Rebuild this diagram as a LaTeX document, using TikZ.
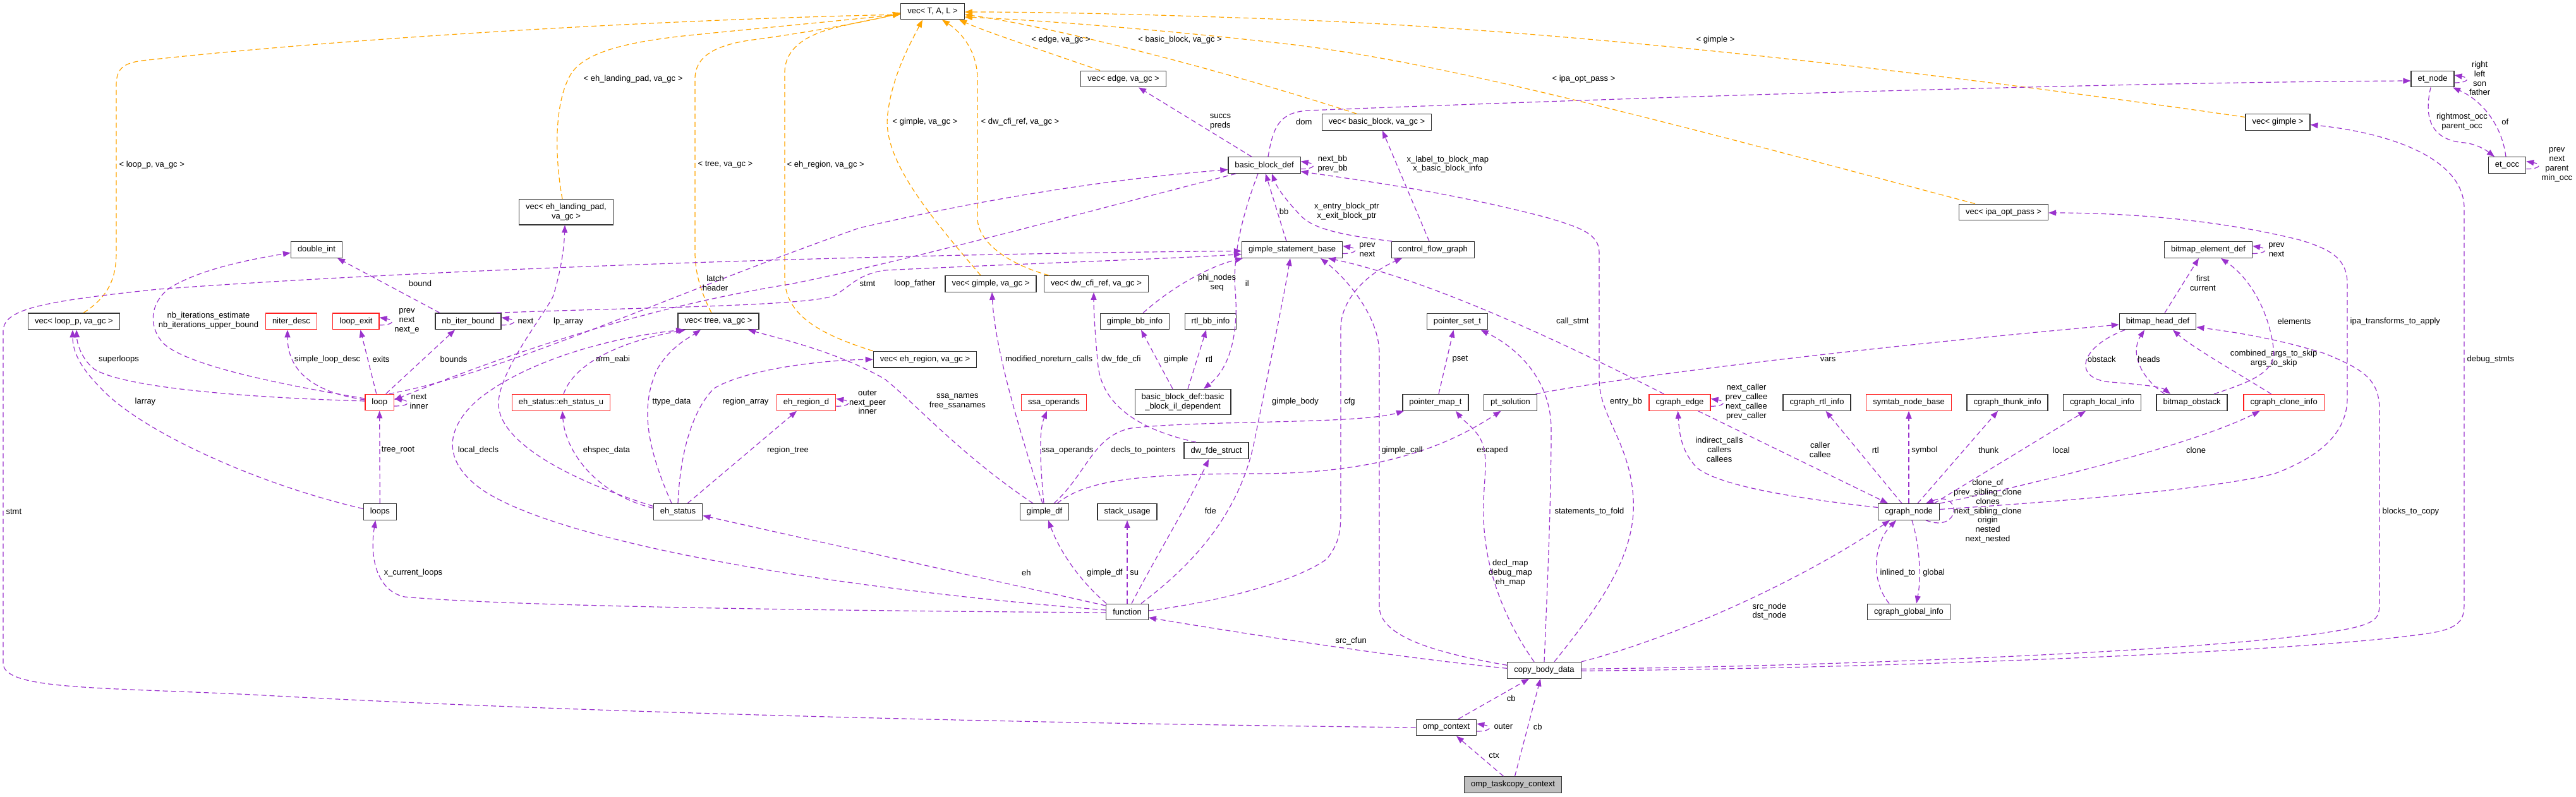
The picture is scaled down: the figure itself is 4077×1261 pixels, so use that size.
\documentclass[tikz,border=0pt]{standalone}
\usepackage{fontspec}
\setmainfont{Liberation Sans}
\usetikzlibrary{arrows.meta}
\definecolor{memcol}{RGB}{154,50,205}
\definecolor{tplcol}{RGB}{255,165,0}
\definecolor{trunccol}{RGB}{255,30,30}
\newcommand\gfont{\fontsize{13}{14.8}\selectfont}

\begin{document}
\begin{tikzpicture}[
    x=1pt, y=-1pt,
    cls/.style={draw=black!80, line width=1.2pt, fill=white, inner xsep=10.5pt,
                inner ysep=0pt, minimum height=25.7pt, align=center, font=\gfont},
    trunc/.style={cls, draw=trunccol},
    root/.style={cls, fill=black!25},
    tall/.style={minimum height=40.4pt},
    mem/.style={draw=memcol, line width=1.2pt, dash pattern=on 8pt off 5pt,
                -{Triangle[length=12pt,width=9pt]}},
    tpl/.style={mem, draw=tplcol},
    lbl/.style={font=\gfont, inner sep=0pt, align=center, text=black},
]
\useasboundingbox (0,0) rectangle (4077,1261);

% --- NODES ---
\node[cls] (vecTAL) at (1476,18) {vec< T, A, L >};
\node[cls] (vecedge) at (1778,125) {vec< edge, va\_gc >};
\node[cls] (etnode) at (3850,125) {et\_node};
\node[cls] (vecbb) at (2179,193.5) {vec< basic\_block, va\_gc >};
\node[cls] (vecgimple) at (3605,193.5) {vec< gimple >};
\node[cls] (bbdef) at (2001,261.6) {basic\_block\_def};
\node[cls] (etocc) at (3968,261.6) {et\_occ};
\node[cls, tall] (veclpad) at (896,335.7) {vec< eh\_landing\_pad,\\va\_gc >};
\node[cls] (vecipa) at (3171,336) {vec< ipa\_opt\_pass >};
\node[cls] (dblint) at (501,395.3) {double\_int};
\node[cls] (gsb) at (2045,395.5) {gimple\_statement\_base};
\node[cls] (cfg) at (2268,395.5) {control\_flow\_graph};
\node[cls] (bmelem) at (3495,395.5) {bitmap\_element\_def};
\node[cls] (vecgimplegc) at (1568,449.4) {vec< gimple, va\_gc >};
\node[cls] (veccfi) at (1735,449.4) {vec< dw\_cfi\_ref, va\_gc >};
\node[cls] (vecloopp) at (117,508.8) {vec< loop\_p, va\_gc >};
\node[trunc] (niter) at (461,508.8) {niter\_desc};
\node[trunc] (loopexit) at (563.4,508.8) {loop\_exit};
\node[cls] (nbiter) at (741,508.8) {nb\_iter\_bound};
\node[cls] (vectree) at (1137,508.8) {vec< tree, va\_gc >};
\node[cls] (gimplebb) at (1796,509) {gimple\_bb\_info};
\node[cls] (rtlbb) at (1916,509) {rtl\_bb\_info};
\node[cls] (pset) at (2306.5,509) {pointer\_set\_t};
\node[cls] (bmhead) at (3415,509) {bitmap\_head\_def};
\node[cls] (vecehr) at (1464,569.2) {vec< eh\_region, va\_gc >};
\node[trunc] (loop) at (600.7,637) {loop};
\node[trunc] (ehsu) at (888,637.3) {eh\_status::eh\_status\_u};
\node[trunc] (ehrd) at (1276,637.3) {eh\_region\_d};
\node[trunc] (ssaop) at (1668,637.3) {ssa\_operands};
\node[cls, tall] (bbil) at (1872,636.5) {basic\_block\_def::basic\\\_block\_il\_dependent};
\node[cls] (pmap) at (2272,637.3) {pointer\_map\_t};
\node[cls] (ptsol) at (2390.5,637.3) {pt\_solution};
\node[trunc] (cgedge) at (2658.5,637.3) {cgraph\_edge};
\node[cls] (cgrtl) at (2875.5,637.3) {cgraph\_rtl\_info};
\node[trunc] (symtab) at (3021,637.3) {symtab\_node\_base};
\node[cls] (cgthunk) at (3177,637.3) {cgraph\_thunk\_info};
\node[cls] (cglocal) at (3327,637.3) {cgraph\_local\_info};
\node[cls] (bmobst) at (3469,637.3) {bitmap\_obstack};
\node[trunc] (cgclone) at (3614.6,637.3) {cgraph\_clone\_info};
\node[cls] (dwfde) at (1925,713.6) {dw\_fde\_struct};
\node[cls] (loops) at (601.3,810.5) {loops};
\node[cls] (ehstatus) at (1073,810.5) {eh\_status};
\node[cls] (gimpledf) at (1653,810.5) {gimple\_df};
\node[cls] (stackuse) at (1784,810.5) {stack\_usage};
\node[cls] (cgnode) at (3021,810.5) {cgraph\_node};
\node[cls] (function) at (1784,969) {function};
\node[cls] (cgglobal) at (3021,969) {cgraph\_global\_info};
\node[cls] (cbd) at (2444,1061.3) {copy\_body\_data};
\node[cls] (ompctx) at (2289,1152) {omp\_context};
\node[root] (otc) at (2394.5,1242.5) {omp\_taskcopy\_context};

% --- TEMPLATE INSTANCES ---
\draw[tpl] ([xshift=15pt]vecloopp.north) .. controls (172,470) and (184,440) .. (184,400)
    -- (184,135) .. controls (184,108) and (196,100) .. (225,96)
    .. controls (600,55) and (1100,30) .. ([yshift=-5pt]vecTAL.west)
    node[lbl, anchor=west, at={(188,261)}] {< loop\_p, va\_gc >};
\draw[tpl] ([xshift=-6pt]veclpad.north) .. controls (878,250) and (876,160) .. (905,115)
    .. controls (930,80) and (1000,65) .. (1100,55)
    .. controls (1250,40) and (1380,28) .. ([yshift=-4pt]vecTAL.west)
    node[lbl, at={(1002,125)}] {< eh\_landing\_pad, va\_gc >};
\draw[tpl] ([xshift=-11pt]vectree.north) .. controls (1108,460) and (1100,430) .. (1100,400)
    -- (1100,125) .. controls (1100,90) and (1130,70) .. (1200,62)
    .. controls (1300,48) and (1380,32) .. ([yshift=-3pt]vecTAL.west)
    node[lbl, anchor=west, at={(1104,261)}] {< tree, va\_gc >};
\draw[tpl] (vecehr.north west) .. controls (1300,530) and (1242,500) .. (1242,440)
    -- (1242,115) .. controls (1242,80) and (1270,55) .. (1330,42)
    .. controls (1370,32) and (1400,28) .. ([yshift=-2pt]vecTAL.west)
    node[lbl, anchor=west, at={(1245,261)}] {< eh\_region, va\_gc >};
\draw[tpl] ([xshift=-16pt]vecgimplegc.north) .. controls (1470,340) and (1395,250) .. (1405,180)
    .. controls (1412,120) and (1440,70) .. ([xshift=-16pt]vecTAL.south)
    node[lbl, at={(1464,193.5)}] {< gimple, va\_gc >};
\draw[tpl] ([xshift=-75pt]veccfi.north) .. controls (1600,420) and (1547,385) .. (1547,345)
    -- (1547,125) .. controls (1547,80) and (1520,50) .. ([xshift=15pt]vecTAL.south)
    node[lbl, at={(1614.5,193.5)}] {< dw\_cfi\_ref, va\_gc >};
\draw[tpl] ([xshift=-37pt]vecedge.north) .. controls (1650,80) and (1560,50) .. ([xshift=42pt]vecTAL.south)
    node[lbl, at={(1679,63.3)}] {< edge, va\_gc >};
\draw[tpl] ([xshift=-32pt]vecbb.north) .. controls (1900,100) and (1650,40) .. ([yshift=-5pt]vecTAL.east)
    node[lbl, at={(1867.6,63.3)}] {< basic\_block, va\_gc >};
\draw[tpl] ([xshift=-45pt]vecipa.north) .. controls (2700,210) and (2300,100) .. (2040,70)
    .. controls (1850,48) and (1650,32) .. ([yshift=-9pt]vecTAL.east)
    node[lbl, at={(2506.5,125)}] {< ipa\_opt\_pass >};
\draw[tpl] ([yshift=8pt]vecgimple.west) .. controls (3100,120) and (2500,48) .. (2040,31)
    .. controls (1800,22) and (1650,19) .. ([yshift=-1pt]vecTAL.east)
    node[lbl, at={(2715,63)}] {< gimple >};

% --- LOOPS ---
\draw[mem] ([yshift=2pt]loop.west) .. controls (400,630) and (200,615) .. (150,585)
    .. controls (130,570) and (122,545) .. ([xshift=4pt]vecloopp.south)
    node[lbl, at={(188,569)}] {superloops};
\draw[mem] ([yshift=5pt]loops.west) .. controls (400,765) and (220,680) .. (160,615)
    .. controls (125,580) and (115,555) .. ([xshift=-2pt]vecloopp.south)
    node[lbl, at={(230,636)}] {larray};
\draw[mem] ([yshift=6pt]loop.west) .. controls (450,610) and (300,580) .. (260,545)
    .. controls (235,520) and (235,480) .. (270,455)
    .. controls (320,425) and (400,410) .. ([yshift=-5pt]dblint.west)
    node[lbl, at={(330,508)}] {nb\_iterations\_estimate\\nb\_iterations\_upper\_bound};
\draw[mem] ([xshift=-45pt]nbiter.north) -- ([xshift=33pt]dblint.south)
    node[lbl, at={(665,449)}] {bound};
\draw[mem] ([yshift=4pt]loop.west) .. controls (500,622) and (455,590) .. ([xshift=-6pt]niter.south)
    node[lbl, at={(518,569)}] {simple\_loop\_desc};
\draw[mem] ([xshift=-5pt]loop.north) -- ([xshift=7pt]loopexit.south)
    node[lbl, at={(603,569)}] {exits};
\draw[mem] ([xshift=10pt]loop.north) -- ([xshift=-21pt]nbiter.south)
    node[lbl, at={(718,569)}] {bounds};
\draw[mem] ([yshift=-6pt]loopexit.east) .. controls +(24,0) and +(24,4) .. ([yshift=6pt]loopexit.east)
    node[lbl, at={(644,508)}] {prev\\next\\next\_e};
\draw[mem] ([yshift=-6pt]nbiter.east) .. controls +(24,0) and +(24,4) .. ([yshift=6pt]nbiter.east)
    node[lbl, at={(832,508.8)}] {next};
\draw[mem] ([yshift=-6pt]loop.east) .. controls +(26,0) and +(26,4) .. ([yshift=6pt]loop.east)
    node[lbl, at={(663,635.5)}] {next\\inner};
\draw[mem] ([xshift=15pt]loop.north) .. controls (800,590) and (1050,470) .. (1360,361)
    .. controls (1600,305) and (1800,280) .. ([yshift=-7pt]bbdef.west)
    node[lbl, at={(1132,448)}] {latch\\header};
\draw[mem] ([xshift=-45pt]bbdef.south) .. controls (1700,340) and (1450,410) .. (1250,450)
    .. controls (1000,490) and (780,570) .. ([yshift=4pt]loop.east)
    node[lbl, at={(1448,449)}] {loop\_father};
\draw[mem] ([xshift=45pt]nbiter.north) .. controls (1000,487) and (1280,485) .. (1320,468)
    .. controls (1345,455) and (1355,435) .. (1400,428)
    .. controls (1600,418) and (1850,410) .. ([yshift=-7pt]gsb.west)
    node[lbl, at={(1373,449)}] {stmt};
\draw[mem] (loops.north) -- (loop.south)
    node[lbl, at={(630,712.8)}] {tree\_root};

% --- EH ---
\draw[mem] ([yshift=9pt]ehstatus.west) .. controls (900,760) and (790,700) .. (789,640)
    .. controls (788,590) and (860,500) .. (875,470)
    .. controls (888,430) and (893,390) .. ([xshift=-2pt]veclpad.south)
    node[lbl, at={(899.6,508.8)}] {lp\_array};
\draw[mem] ([yshift=3pt]function.west) .. controls (1300,930) and (900,860) .. (770,780)
    .. controls (700,735) and (700,680) .. (760,630)
    .. controls (850,560) and (1000,530) .. ([xshift=-55pt]vectree.south)
    node[lbl, at={(757,712.8)}] {local\_decls};
\draw[mem] ([xshift=4pt]ehsu.north) .. controls (905,585) and (960,545) .. ([xshift=-52pt]vectree.south)
    node[lbl, at={(970,569)}] {arm\_eabi};
\draw[mem] ([xshift=-10pt]ehstatus.north) .. controls (1020,700) and (1015,640) .. (1040,585)
    .. controls (1060,550) and (1090,535) .. ([xshift=-28pt]vectree.south)
    node[lbl, at={(1063,636)}] {ttype\_data};
\draw[mem] (ehstatus.north) .. controls (1076,720) and (1095,650) .. (1130,615)
    .. controls (1180,585) and (1300,570) .. (vecehr.west)
    node[lbl, at={(1180,636)}] {region\_array};
\draw[mem] ([xshift=15pt]ehstatus.north) -- ([xshift=-15pt]ehrd.south)
    node[lbl, at={(1247,712.8)}] {region\_tree};
\draw[mem] ([yshift=6pt]ehstatus.west) .. controls (950,785) and (895,720) .. ([xshift=2pt]ehsu.south)
    node[lbl, at={(960,712.8)}] {ehspec\_data};
\draw[mem] ([yshift=-6pt]ehrd.east) .. controls +(24,0) and +(24,4) .. ([yshift=6pt]ehrd.east)
    node[lbl, at={(1373,637)}] {outer\\next\_peer\\inner};

% --- GIMPLE / BASIC BLOCKS ---
\draw[mem] ([xshift=-18pt]gimpledf.north) .. controls (1520,720) and (1450,640) .. (1400,600)
    .. controls (1330,560) and (1250,540) .. ([xshift=47pt]vectree.south)
    node[lbl, at={(1515.4,636)}] {ssa\_names\\free\_ssanames};
\draw[mem] ([xshift=-3pt]gimpledf.north) .. controls (1620,700) and (1575,560) .. ([xshift=2pt]vecgimplegc.south)
    node[lbl, at={(1660,569)}] {modified\_noreturn\_calls};
\draw[mem] ([xshift=-1pt]gimpledf.north) .. controls (1645,720) and (1645,680) .. ([xshift=-11pt]ssaop.south)
    node[lbl, at={(1689.5,712.8)}] {ssa\_operands};
\draw[mem] ([xshift=15pt]gimpledf.north) .. controls (1720,750) and (1730,690) .. (1790,678)
    .. controls (1900,665) and (2150,672) .. ([xshift=-50pt]pmap.south)
    node[lbl, at={(1809.6,712.8)}] {decls\_to\_pointers};
\draw[mem] ([xshift=20pt]gimpledf.north) .. controls (1720,760) and (1800,750) .. (2000,750)
    .. controls (2200,748) and (2300,700) .. ([xshift=-15pt]ptsol.south)
    node[lbl, at={(2362,712.8)}] {escaped};
\draw[mem] ([xshift=-32pt]dwfde.north) .. controls (1800,680) and (1745,640) .. (1738,580)
    .. controls (1733,530) and (1731,490) .. ([xshift=-4pt]veccfi.south)
    node[lbl, at={(1774.3,569)}] {dw\_fde\_cfi};
\draw[mem] ([xshift=-16pt]bbil.north) -- ([xshift=10pt]gimplebb.south)
    node[lbl, at={(1861.3,569)}] {gimple};
\draw[mem] ([xshift=8pt]bbil.north) -- ([xshift=-7pt]rtlbb.south)
    node[lbl, at={(1913.6,569)}] {rtl};
\draw[mem] ([xshift=-10pt]bbdef.south) .. controls (1970,330) and (1950,400) .. (1955,460)
    .. controls (1960,520) and (1950,580) .. ([xshift=33pt]bbil.north)
    node[lbl, at={(1973.8,449)}] {il};
\draw[mem] ([xshift=13pt]gimplebb.north) .. controls (1860,450) and (1920,420) .. ([xshift=-78pt]gsb.south)
    node[lbl, at={(1926,448)}] {phi\_nodes\\seq};
\draw[mem] ([yshift=-6pt]gsb.east) .. controls +(24,0) and +(24,4) .. ([yshift=6pt]gsb.east)
    node[lbl, at={(2164,395.3)}] {prev\\next};
\draw[mem] ([xshift=-9pt]gsb.north) -- ([xshift=2pt]bbdef.south)
    node[lbl, at={(2032,334.7)}] {bb};
\draw[mem] ([xshift=-65pt]cfg.north) .. controls (2120,372) and (2080,362) .. (2060,343)
    .. controls (2040,322) and (2022,300) .. ([xshift=12pt]bbdef.south)
    node[lbl, at={(2131.5,335)}] {x\_entry\_block\_ptr\\x\_exit\_block\_ptr};
\draw[mem] ([xshift=-6pt]cfg.north) -- ([xshift=9pt]vecbb.south)
    node[lbl, at={(2291.3,260)}] {x\_label\_to\_block\_map\\x\_basic\_block\_info};
\draw[mem] ([xshift=-20pt]bbdef.north) -- ([xshift=24pt]vecedge.south)
    node[lbl, at={(1931.4,193)}] {succs\\preds};
\draw[mem] ([yshift=-6pt]bbdef.east) .. controls +(24,0) and +(24,4) .. ([yshift=6pt]bbdef.east)
    node[lbl, at={(2109,260)}] {next\_bb\\prev\_bb};
\draw[mem] ([xshift=6pt]bbdef.north) .. controls (2015,200) and (2025,178) .. (2070,175)
    .. controls (2700,150) and (3400,130) .. ([yshift=-3pt]etnode.west)
    node[lbl, at={(2063.7,192.7)}] {dom};

% --- FUNCTION ---
\draw[mem] ([yshift=2pt]function.east) .. controls (1950,950) and (2060,915) .. (2100,885)
    .. controls (2120,860) and (2122,840) .. (2122,810) -- (2122,520)
    .. controls (2122,470) and (2170,430) .. ([xshift=-49pt]cfg.south)
    node[lbl, at={(2136,636)}] {cfg};
\draw[mem] ([xshift=22pt]function.north) .. controls (1880,900) and (1960,820) .. (1985,700)
    .. controls (2005,600) and (2030,480) .. ([xshift=-3pt]gsb.south)
    node[lbl, at={(2050,636)}] {gimple\_body};
\draw[mem] ([xshift=7pt]function.north) .. controls (1830,880) and (1880,800) .. ([xshift=-12pt]dwfde.south)
    node[lbl, at={(1915.8,809)}] {fde};
\draw[mem] (function.north) -- (stackuse.south)
    node[lbl, at={(1795.3,907)}] {su};
\draw[mem] ([xshift=-33pt]function.north) .. controls (1715,925) and (1680,880) .. ([xshift=6pt]gimpledf.south)
    node[lbl, at={(1748.4,907)}] {gimple\_df};
\draw[mem] ([yshift=10pt]function.west) -- ([yshift=-6pt]ehstatus.east)
    node[lbl, at={(1624.3,907)}] {eh};
\draw[mem] ([yshift=-1pt]function.west) .. controls (1300,967) and (800,960) .. (640,945)
    .. controls (595,935) and (585,880) .. ([xshift=-7pt]loops.south)
    node[lbl, at={(654,907)}] {x\_current\_loops};

% --- COPY BODY DATA ---
\draw[mem] ([xshift=-16pt]cbd.north) .. controls (2380,980) and (2350,900) .. (2348,820)
    .. controls (2346,760) and (2360,720) .. (2340,690)
    .. controls (2330,675) and (2315,665) .. ([xshift=32pt]pmap.south)
    node[lbl, at={(2390.4,907)}] {decl\_map\\debug\_map\\eh\_map};
\draw[mem] (cbd.north) .. controls (2448,950) and (2455,800) .. (2455,680)
    .. controls (2455,600) and (2400,550) .. ([xshift=37pt]pset.south)
    node[lbl, at={(2515.4,809.7)}] {statements\_to\_fold};
\draw[mem] ([xshift=5pt]pmap.north) -- ([xshift=-6pt]pset.south)
    node[lbl, at={(2311,569)}] {pset};
\draw[mem] ([xshift=40pt]ptsol.north) .. controls (2550,600) and (2900,555) .. ([yshift=-5pt]bmhead.west)
    node[lbl, at={(2893,569)}] {vars};
\draw[mem] ([xshift=-25pt]cgedge.north) .. controls (2450,530) and (2250,440) .. ([xshift=57pt]gsb.south)
    node[lbl, at={(2488.7,509)}] {call\_stmt};
\draw[mem] ([yshift=8pt]cbd.west) .. controls (2280,1035) and (2183,1010) .. (2183,960)
    -- (2183,560) .. controls (2183,500) and (2130,440) .. ([xshift=45pt]gsb.south)
    node[lbl, at={(2219,712.8)}] {gimple\_call};
\draw[mem] ([xshift=16pt]cbd.north) .. controls (2530,960) and (2590,880) .. (2585,790)
    .. controls (2580,700) and (2531,660) .. (2531,600) -- (2531,400)
    .. controls (2531,370) and (2500,360) .. (2450,345)
    .. controls (2300,305) and (2150,285) .. ([yshift=-10pt]bbdef.east)
    node[lbl, at={(2573.5,636.3)}] {entry\_bb};
\draw[mem] ([yshift=3pt]cbd.west) .. controls (2200,1040) and (1950,1000) .. ([yshift=-9pt]function.east)
    node[lbl, at={(2138.2,1015)}] {src\_cfun};
\draw[mem] (cbd.north east) .. controls (2650,1010) and (2850,920) .. ([xshift=-30pt]cgnode.south)
    node[lbl, at={(2800.4,968)}] {src\_node\\dst\_node};
\draw[mem] ([yshift=2pt]cbd.east) .. controls (2900,1055) and (3550,1030) .. (3720,995)
    .. controls (3766,985) and (3766,975) .. (3766,950) -- (3766,650)
    .. controls (3766,600) and (3740,585) .. (3680,560)
    .. controls (3600,535) and (3530,525) .. ([yshift=-9pt]bmhead.east)
    node[lbl, anchor=west, at={(3770,809.7)}] {blocks\_to\_copy};
\draw[mem] ([yshift=-1pt]cbd.east) .. controls (3000,1058) and (3700,1030) .. (3860,1000)
    .. controls (3900,990) and (3900,975) .. (3900,950) -- (3900,330)
    .. controls (3900,250) and (3780,210) .. ([yshift=-4pt]vecgimple.east)
    node[lbl, anchor=west, at={(3904,569)}] {debug\_stmts};

% --- CGRAPH ---
\draw[mem] ([yshift=4pt]cgnode.east) .. controls (3250,795) and (3500,775) .. (3600,750)
    .. controls (3680,720) and (3715,680) .. (3715,630) -- (3715,450)
    .. controls (3715,410) and (3690,395) .. (3640,380)
    .. controls (3500,345) and (3350,337) .. ([yshift=-1pt]vecipa.east)
    node[lbl, anchor=west, at={(3719,509)}] {ipa\_transforms\_to\_apply};
\draw[mem] (cgnode.north east) .. controls (3250,760) and (3480,700) .. ([xshift=-38pt]cgclone.south)
    node[lbl, at={(3475.6,712.8)}] {clone};
\draw[mem] ([xshift=27pt]cgnode.south) .. controls (3105,845) and (3105,775) .. ([xshift=27pt]cgnode.north)
    node[lbl, at={(3146,809.7)}] {clone\_of\\prev\_sibling\_clone\\clones\\next\_sibling\_clone\\origin\\nested\\next\_nested};
\draw[mem] ([xshift=-11pt]cgnode.north) -- ([xshift=14pt]cgrtl.south)
    node[lbl, at={(2968.2,712.8)}] {rtl};
\draw[mem] (cgnode.north) -- (symtab.south)
    node[lbl, at={(3045.9,712.8)}] {symbol};
\draw[mem] ([xshift=14pt]cgnode.north) -- ([xshift=-15pt]cgthunk.south)
    node[lbl, at={(3147.2,712.8)}] {thunk};
\draw[mem] ([xshift=40pt]cgnode.north) -- ([xshift=-26pt]cglocal.south)
    node[lbl, at={(3262.4,712.8)}] {local};
\draw[mem] ([xshift=5pt]cgnode.south) .. controls (3040,870) and (3040,920) .. ([xshift=12pt]cgglobal.north)
    node[lbl, at={(3060.6,907)}] {global};
\draw[mem] ([xshift=-31pt]cgglobal.north) .. controls (2960,920) and (2965,860) .. ([xshift=-20pt]cgnode.south)
    node[lbl, at={(3003.5,907)}] {inlined\_to};
\draw[mem] ([xshift=29pt]cgedge.south) -- ([xshift=-33pt]cgnode.north)
    node[lbl, at={(2880.7,712.5)}] {caller\\callee};
\draw[mem] ([yshift=7pt]cgnode.west) .. controls (2850,790) and (2720,770) .. (2685,740)
    .. controls (2662,715) and (2658,690) .. ([xshift=-3pt]cgedge.south)
    node[lbl, at={(2721,712)}] {indirect\_calls\\callers\\callees};
\draw[mem] ([yshift=-6pt]cgedge.east) .. controls +(24,0) and +(24,4) .. ([yshift=6pt]cgedge.east)
    node[lbl, at={(2764,636.5)}] {next\_caller\\prev\_callee\\next\_callee\\prev\_caller};

% --- BITMAPS / ET ---
\draw[mem] ([xshift=-20pt]cgclone.north) .. controls (3540,590) and (3470,550) .. ([xshift=24pt]bmhead.south)
    node[lbl, at={(3598.6,568)}] {combined\_args\_to\_skip\\args\_to\_skip};
\draw[mem] ([xshift=11pt]bmhead.north) -- ([xshift=-15pt]bmelem.south)
    node[lbl, at={(3486.4,448.4)}] {first\\current};
\draw[mem] ([xshift=35pt]bmobst.north) .. controls (3560,605) and (3605,590) .. (3598,550)
    .. controls (3590,490) and (3560,440) .. ([xshift=20pt]bmelem.south)
    node[lbl, at={(3631,509)}] {elements};
\draw[mem] ([xshift=-52pt]bmhead.south) .. controls (3290,550) and (3280,600) .. (3340,605)
    .. controls (3380,608) and (3420,612) .. ([xshift=-34pt]bmobst.north)
    node[lbl, at={(3326.3,569)}] {obstack};
\draw[mem] ([xshift=-43pt]bmobst.north) .. controls (3390,600) and (3370,560) .. ([xshift=-21pt]bmhead.south)
    node[lbl, at={(3401,569)}] {heads};
\draw[mem] ([yshift=-6pt]bmelem.east) .. controls +(24,0) and +(24,4) .. ([yshift=6pt]bmelem.east)
    node[lbl, at={(3603,395.3)}] {prev\\next};
\draw[mem] ([yshift=-6pt]etnode.east) .. controls +(24,0) and +(24,4) .. ([yshift=6pt]etnode.east)
    node[lbl, at={(3924.6,124)}] {right\\left\\son\\father};
\draw[mem] ([xshift=-3pt]etnode.south) .. controls (3835,190) and (3850,222) .. (3900,226)
    .. controls (3920,228) and (3935,238) .. ([xshift=-20pt]etocc.north)
    node[lbl, at={(3896.5,192.8)}] {rightmost\_occ\\parent\_occ};
\draw[mem] ([xshift=-2pt]etocc.north) .. controls (3960,200) and (3930,160) .. ([xshift=32pt]etnode.south)
    node[lbl, at={(3964.8,192.7)}] {of};
\draw[mem] ([yshift=-6pt]etocc.east) .. controls +(24,0) and +(24,4) .. ([yshift=6pt]etocc.east)
    node[lbl, at={(4046.8,260.6)}] {prev\\next\\parent\\min\_occ};

% --- OMP ---
\draw[mem] (ompctx.west) .. controls (1600,1145) and (900,1128) .. (400,1100)
    .. controls (150,1088) and (5,1092) .. (5,1050) -- (5,525)
    .. controls (5,490) and (60,478) .. (250,458)
    .. controls (700,425) and (1400,402) .. ([yshift=-2pt]gsb.west)
    node[lbl, anchor=west, at={(9,810)}] {stmt};
\draw[mem] ([xshift=19pt]ompctx.north) -- ([xshift=-24pt]cbd.south)
    node[lbl, at={(2391.8,1105.7)}] {cb};
\draw[mem] ([yshift=-6pt]ompctx.east) .. controls +(24,0) and +(24,4) .. ([yshift=6pt]ompctx.east)
    node[lbl, at={(2379.3,1150.7)}] {outer};
\draw[mem] ([xshift=-15pt]otc.north) -- ([xshift=16pt]ompctx.south)
    node[lbl, at={(2364.6,1196.5)}] {ctx};
\draw[mem] ([xshift=3pt]otc.north) -- ([xshift=-6pt]cbd.south)
    node[lbl, at={(2433.8,1150.7)}] {cb};

\end{tikzpicture}
\end{document}
